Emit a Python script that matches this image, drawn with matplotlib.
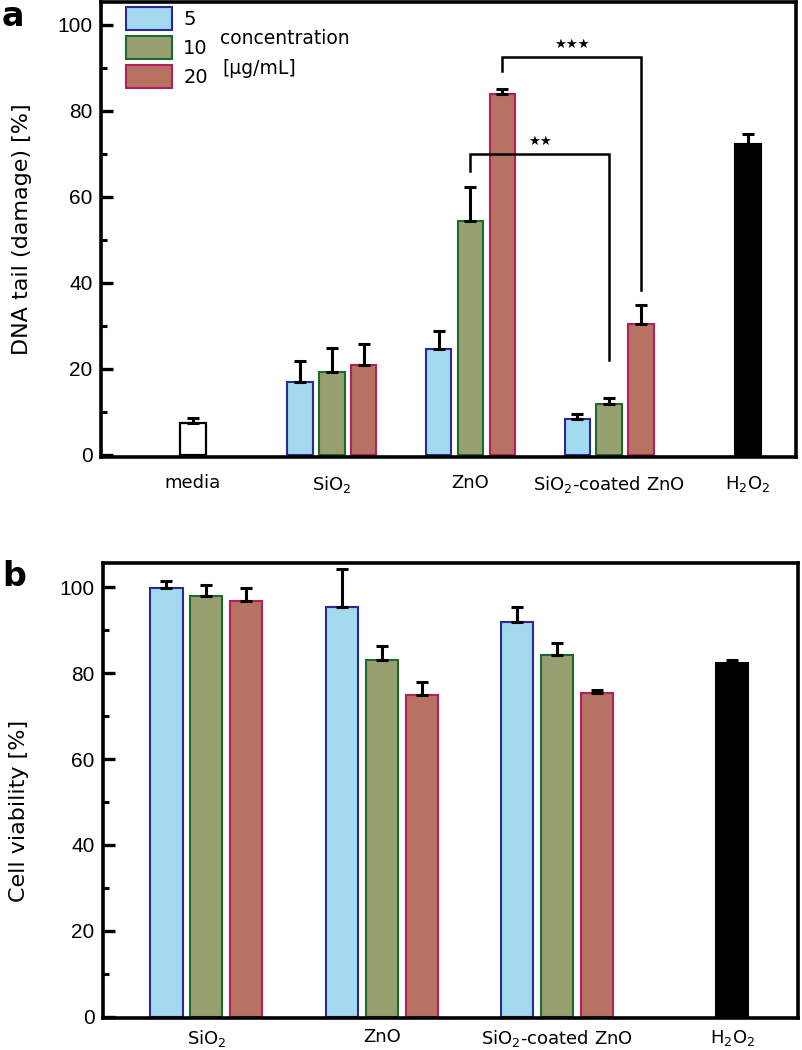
import numpy as np
import matplotlib
matplotlib.use("Agg")
import matplotlib.pyplot as plt
from matplotlib.patches import Patch
from matplotlib.ticker import MultipleLocator

plt.rcParams['font.family'] = ['Liberation Sans', 'DejaVu Sans']
plt.rcParams['mathtext.default'] = 'regular'

# ---------------- data ----------------
conc_labels = ['5', '10', '20']
groups_a = ['media', 'SiO$_2$', 'ZnO', 'SiO$_2$-coated ZnO', 'H$_2$O$_2$']
media_a = 7.4
media_a_err = 1.1
sio2_a = [17.0, 19.3, 21.0]
sio2_a_err = [4.8, 5.6, 4.7]
zno_a = [24.7, 54.4, 83.8]
zno_a_err = [4.0, 7.9, 1.3]
coated_a = [8.4, 11.9, 30.5]
coated_a_err = [1.1, 1.4, 4.4]
h2o2_a = 72.3
h2o2_a_err = 2.3

groups_b = ['SiO$_2$', 'ZnO', 'SiO$_2$-coated ZnO', 'H$_2$O$_2$']
sio2_b = [99.8, 97.9, 96.8]
sio2_b_err = [1.6, 2.6, 3.0]
zno_b = [95.4, 83.0, 74.9]
zno_b_err = [8.8, 3.3, 2.9]
coated_b = [91.9, 84.1, 75.3]
coated_b_err = [3.4, 3.0, 0.7]
h2o2_b = 82.3
h2o2_b_err = 0.7

# significance brackets: (left group, right group, conc index, line y, left leg bottom, right leg bottom, label)
brackets = [(2, 3, 1, 70.0, 66.0, 22.0, '★★'),
            (2, 3, 2, 92.6, 89.3, 38.4, '★★★')]

face_cols = ['#a3d9ee', '#99a06f', '#b87262']
edge_cols = ['#2a2a96', '#1b6b2e', '#b5205c']

fig = plt.figure(figsize=(8.02, 10.5), dpi=100)
ax_a = fig.add_axes([101/802, 1-457/1050, 695/802, 455/1050])
ax_b = fig.add_axes([103/802, 1-1018/1050, 695/802, 455/1050])


def style_axis(ax, xpad):
    for s in ax.spines.values():
        s.set_linewidth(2.6)
    ax.yaxis.set_major_locator(MultipleLocator(20))
    ax.yaxis.set_minor_locator(MultipleLocator(10))
    ax.tick_params(axis='y', which='major', direction='in', length=8.5, width=2.4,
                   labelsize=15, pad=6, right=False)
    ax.tick_params(axis='y', which='minor', direction='in', length=4.5, width=2.2, right=False)
    ax.tick_params(axis='x', which='both', length=0, pad=xpad)
    for t in ax.get_yticklabels():
        t.set_fontfamily('Liberation Sans')
    for t in ax.get_xticklabels():
        t.set_fontfamily('DejaVu Sans')
        t.set_fontsize(13)


def grouped(ax, centers, vals, errs, width, off):
    for k in range(3):
        x = np.array(centers) + (k - 1) * off
        v = [g[k] for g in vals]
        e = [g[k] for g in errs]
        ax.bar(x, v, width, color=face_cols[k], edgecolor=edge_cols[k], linewidth=1.5, zorder=2)
        ax.errorbar(x, v, yerr=[np.zeros(len(e)), e], fmt='none', ecolor='black',
                    elinewidth=2.2, capsize=4, capthick=2.2, zorder=3)


# ---------------- panel a ----------------
wa, oa = 0.184, 0.229
ax_a.bar([0], [media_a], wa, color='white', edgecolor='black', linewidth=1.6, zorder=2)
ax_a.errorbar([0], [media_a], yerr=[[0], [media_a_err]], fmt='none', ecolor='black',
              elinewidth=2.2, capsize=4, capthick=2.2, zorder=3)
grouped(ax_a, [1, 2, 3], [sio2_a, zno_a, coated_a], [sio2_a_err, zno_a_err, coated_a_err], wa, oa)
ax_a.bar([4], [h2o2_a], wa, color='black', edgecolor='black', linewidth=1.5, zorder=2)
ax_a.errorbar([4], [h2o2_a], yerr=[[0], [h2o2_a_err]], fmt='none', ecolor='black',
              elinewidth=2.2, capsize=4, capthick=2.2, zorder=3)

for g1, g2, k, yl, b1, b2, lab in brackets:
    x1 = g1 + (k - 1) * oa
    x2 = g2 + (k - 1) * oa
    ax_a.plot([x1, x1, x2, x2], [b1, yl, yl, b2], color='black', lw=1.8, zorder=4,
              solid_joinstyle='miter')
    ax_a.text((x1 + x2) / 2, yl + 1.3, lab, ha='center', va='bottom', fontsize=9.5,
              family='DejaVu Sans', zorder=5)

ax_a.set_xlim(-0.663, 4.346)
ax_a.set_ylim(-0.5, 105.3)
ax_a.set_xticks(range(5))
ax_a.set_xticklabels(groups_a)
style_axis(ax_a, 12)
ax_a.set_ylabel('DNA tail (damage) [%]', fontsize=16, family='DejaVu Sans')
ax_a.yaxis.set_label_coords(-0.100, 0.5)

handles = [Patch(facecolor=face_cols[k], edgecolor=edge_cols[k], linewidth=1.5) for k in range(3)]
leg = ax_a.legend(handles, conc_labels, loc='upper left', bbox_to_anchor=(25/695, 1-5/455),
                  frameon=False, borderpad=0, borderaxespad=0, handlelength=2.35, handleheight=1.45,
                  labelspacing=0.3, handletextpad=0.6,
                  prop={'family': 'DejaVu Sans', 'size': 14})
ax_a.text(119/695, 1-36/455, 'concentration', transform=ax_a.transAxes, fontsize=13.5,
          family='DejaVu Sans', ha='left', va='center')
ax_a.text(121/695, 1-66/455, '[μg/mL]', transform=ax_a.transAxes, fontsize=13.5,
          family='DejaVu Sans', ha='left', va='center')

# ---------------- panel b ----------------
wb, ob = 0.183, 0.228
grouped(ax_b, [0, 1, 2], [sio2_b, zno_b, coated_b], [sio2_b_err, zno_b_err, coated_b_err], wb, ob)
ax_b.bar([3], [h2o2_b], wb, color='black', edgecolor='black', linewidth=1.5, zorder=2)
ax_b.errorbar([3], [h2o2_b], yerr=[[0], [h2o2_b_err]], fmt='none', ecolor='black',
              elinewidth=2.2, capsize=4, capthick=2.2, zorder=3)
ax_b.set_xlim(-0.590, 3.374)
ax_b.set_ylim(-0.25, 105.6)
ax_b.set_xticks(range(4))
ax_b.set_xticklabels(groups_b)
style_axis(ax_b, 7)
ax_b.set_ylabel('Cell viability [%]', fontsize=16, family='DejaVu Sans')
ax_b.yaxis.set_label_coords(-0.106, 0.456)

fig.text(2/802, 1-16/1050, 'a', fontsize=24, fontweight='bold', ha='left', va='center',
         family='DejaVu Sans')
fig.text(2/802, 1-576/1050, 'b', fontsize=24, fontweight='bold', ha='left', va='center',
         family='DejaVu Sans')

fig.savefig('out.png', dpi=100)
